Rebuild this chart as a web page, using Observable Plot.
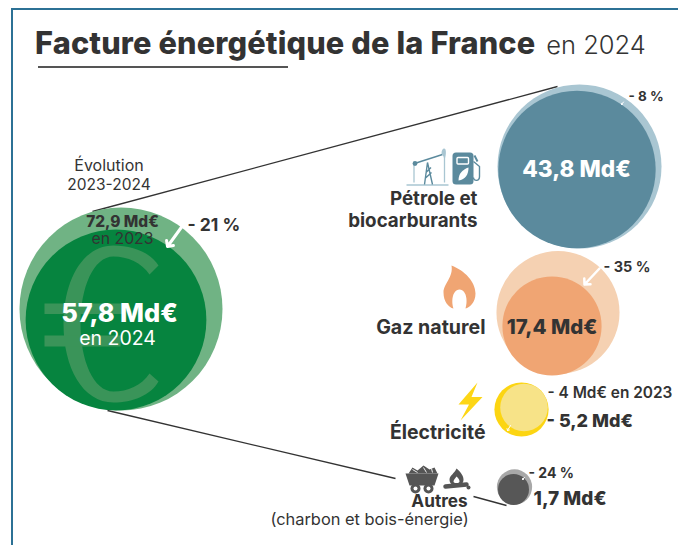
<!DOCTYPE html>
<html lang="fr"><head><meta charset="utf-8">
<script src="https://cdn.jsdelivr.net/npm/d3@7"></script>
<script src="https://cdn.jsdelivr.net/npm/@observablehq/plot@0.6"></script>
<style>
html,body{margin:0;padding:0;background:#fff;overflow:hidden;width:678px;height:545px}
body{position:relative;font-family:Inter,sans-serif;color:#333}
#frame{position:absolute;left:11px;top:8px;right:0;bottom:0;border-top:2px solid #2c7195;border-left:2px solid #2c7195;pointer-events:none}
#head{position:relative;height:68px}
#title{position:absolute;left:35px;top:22px;margin:0;font-size:30.7px;line-height:42px;font-weight:800;white-space:nowrap;letter-spacing:.15px}
#title span{font-weight:300;font-size:25.5px;letter-spacing:0;margin-left:4px}
#rule{position:absolute;left:38px;top:66px;width:250px;height:2px;background:#555}
svg{display:block}
</style></head><body>
<div id="head"><h1 id="title">Facture énergétique de la France <span>en 2024</span></h1><div id="rule"></div></div>
<div id="chart"></div>
<div id="frame"></div>
<script>
// Data (Md€)
const categories = ["Total", "Pétrole et biocarburants", "Gaz naturel", "Électricité", "Autres"];
const bill2024 = [57.8, 43.8, 17.4, 5.2, 1.7];
const bill2023 = [72.9, 47.6, 26.8, 4.0, 2.2];
const evolutionLabels = ["- 21 %", "- 8 %", "- 35 %", "- 4 Md€ en 2023", "- 24 %"];

// Layout, in page pixels
const centers2024 = [[115.5,319.5],[576.5,169],[551.5,325.5],[521,409],[513,489]];
const centers2023 = [[120.5,308.5],[579,166],[557.5,312],[523.5,407],[514,486.5]];
const fills2024 = ["#06843f","#5b8a9d","#f0a573","#fcd512","#575757"];
const fills2023 = ["#70b384","#a9c6d2","#f5d1b2","#f7e388","#a8a8a8"];
const ink = "#333";

const bubbles = categories.flatMap((c,i)=>[
  {c,v:bill2023[i],x:centers2023[i][0],y:centers2023[i][1],f:fills2023[i]},
  {c,v:bill2024[i],x:centers2024[i][0],y:centers2024[i][1],f:fills2024[i]}
]).sort((a,b)=>d3.descending(a.v,b.v));

const connectors = [
  {x1:92,y1:211,x2:557,y2:86},
  {x1:107,y1:410,x2:395,y2:478},
  {x1:473,y1:496,x2:506,y2:505}
];
const arrows = [
  {x1:181.5,y1:226,x2:167,y2:246,w:3},
  {x1:599,y1:268,x2:584,y2:284,w:2.5},
  {x1:623,y1:101.5,x2:621,y2:104,w:1},
  {x1:510,y1:425,x2:507,y2:430,w:1},
  {x1:524,y1:477,x2:522,y2:479,w:1}
];

function txt(text,x,y,size,weight,anchor="middle",fill=ink){
  return Plot.text([{text,x,y}],{x:"x",y:"y",text:"text",fontSize:size,fontWeight:weight,textAnchor:anchor,fill});
}
function icon(x,y,w,h,markup){
  const svg=`<svg xmlns="http://www.w3.org/2000/svg" viewBox="${x} ${y} ${w} ${h}" width="${w}" height="${h}">${markup}</svg>`;
  return Plot.image([{x:x+w/2,y:y+h/2}],{x:"x",y:"y",width:w,height:h,src:()=>"data:image/svg+xml;charset=utf-8,"+encodeURIComponent(svg)});
}
const euro = icon(40,240,125,166,`<g fill="#3a9459">
<path d="M158 265C150 252 132 245 113 245C82 245 63 280 63 323.5C63 367 82 402 113 402C132 402 150 395 158 381L149 373C141 385 127 391 113 391C93 391 80 360 80 323.5C80 287 93 256 113 256C127 256 141 262 149 274Z"/>
<rect x="44" y="303" width="80" height="10.5"/><rect x="44" y="335" width="76" height="11"/></g>`);
const jack = icon(404,146,46,40,`<g fill="none" stroke="#a9c6d2" stroke-width="1.3">
<path d="M406 184.5H448"/><path d="M413.5 163V182"/><path d="M444 156V182"/></g>
<g fill="none" stroke="#5b8a9d" stroke-width="1.4"><path d="M414 163L442 154"/><path d="M424 184L427 162L432 184M424.5 178L431 172M425.5 172L430.5 167"/></g>
<circle cx="414.5" cy="163" r="2.4" fill="#5b8a9d"/><path d="M441 153C441 148 444 147 445 149C446 152 445 157 444 159C443 155 442 155 441 153Z" fill="#a9c6d2"/>`);
const pump = icon(450,150,34,36,`<rect x="452" y="152" width="21" height="32" rx="3.5" fill="#5b8a9d"/><rect x="456.500" y="157" width="11.500" height="6.500" rx="1" fill="none" stroke="#fff" stroke-width="1.4"/>
<path d="M458 180C458 173 462 169 468 167C468 174 465 179 458 180Z" fill="#fff"/>
<path d="M473 161L479 166V176C479 181 473 181 473 177" fill="none" stroke="#5b8a9d" stroke-width="1.4"/><path d="M474 155L477 161" stroke="#5b8a9d" stroke-width="2"/>`);
const flame = icon(442,264,34,45,`<path d="M451 265C464 270 475 281 475 293C475 302 469 307 465 308C467 302 467 290 459 289C451 290 451 302 453 308C448 307 443 301 443 292C443 283 453 277 451 265Z" fill="#f0a573"/>`);
const bolt = icon(456,380,28,42,`<path d="M477 382L458 404H468.500L460 420L482 396.500H471Z" fill="#fdd616"/>`);
const cart = icon(403,462,38,32,`<g fill="#555"><path d="M405 473H438L434 485H409Z"/><path d="M408 473L412 467L417 470L423 465L429 469L434 467L437 473Z"/><circle cx="415" cy="488" r="5"/><circle cx="428" cy="488" r="5"/></g>
<path d="M412 469L417 472M423 467L426 472M431 468L432 472" stroke="#fff" stroke-width=".9"/><circle cx="415" cy="488" r="2" fill="#fff"/><circle cx="428" cy="488" r="2" fill="#fff"/>`);
const fire = icon(441,466,32,26,`<path d="M456 468C461 472 463 476 463 479C463 483 460 485 456 485C452 485 449 483 449 479C449 475 454 473 456 468Z" fill="#555"/><path d="M456 476C458 478 459 479 459 481C459 483 453 483 453 481C453 479 455 478 456 476Z" fill="#fff"/>
<path d="M445 486L466 484" stroke="#555" stroke-width="4.500" stroke-linecap="round"/><circle cx="468" cy="487" r="2" fill="#555"/>`);

const plot = Plot.plot({
  width:678, height:477,
  marginTop:0, marginRight:0, marginBottom:0, marginLeft:0,
  style:{fontFamily:"Inter, sans-serif", background:"transparent"},
  x:{domain:[0,678], range:[0,678], axis:null},
  y:{domain:[68,545], range:[0,477], axis:null},
  r:{type:"sqrt", domain:[0,72.9], range:[0,101.5]},
  marks:[
    Plot.link(connectors,{x1:"x1",y1:"y1",x2:"x2",y2:"y2",stroke:ink,strokeWidth:1.3}),
    Plot.dot(bubbles,{x:"x",y:"y",r:"v",fill:"f",stroke:null}),
    euro,
    Plot.arrow(arrows,{x1:"x1",y1:"y1",x2:"x2",y2:"y2",stroke:"#fff",strokeWidth:"w",bend:0,headLength:9,headAngle:90}),
    jack,pump,flame,bolt,cart,fire,
    txt("Évolution",108.5,165,16,400),
    txt("2023-2024",108.5,185,15.5,400),
    txt(`${String(bill2023[0]).replace(".",",")} Md€`,122,221.5,15.4,800),
    txt("en 2023",122,238.5,15.8,400),
    txt(evolutionLabels[0],187,225,17.5,700,"start"),
    txt(`${String(bill2024[0]).replace(".",",")} Md€`,119,313,25.4,800,"middle","#fff"),
    txt("en 2024",117,338,19.5,400,"middle","#fff"),
    txt(`${String(bill2024[1]).replace(".",",")} Md€`,576,169,22.6,800,"middle","#fff"),
    txt(evolutionLabels[1],628,96,13.5,700,"start"),
    txt("Pétrole et",477,198,18.8,700,"end"),
    txt("biocarburants",477,220.5,18.8,700,"end"),
    txt(categories[2],485,327,19.6,700,"end"),
    txt(`${String(bill2024[2]).replace(".",",")} Md€`,551.5,327,20.4,800),
    txt(evolutionLabels[2],603,267,14.5,700,"start"),
    txt(evolutionLabels[3],547,393,15.4,600,"start"),
    txt(`- ${String(bill2024[3]).replace(".",",")} Md€`,546,421,18,800,"start"),
    txt(categories[3],485,432,19.4,700,"end"),
    txt(categories[4],439,500.5,17.2,700),
    txt("(charbon et bois-énergie)",369,519.5,16.4,400),
    txt(evolutionLabels[4],528,473,14,700,"start"),
    txt(`${String(bill2024[4]).replace(".",",")} Md€`,533,498,19,800,"start")
  ]
});
document.getElementById("chart").append(plot);
</script>
</body></html>
